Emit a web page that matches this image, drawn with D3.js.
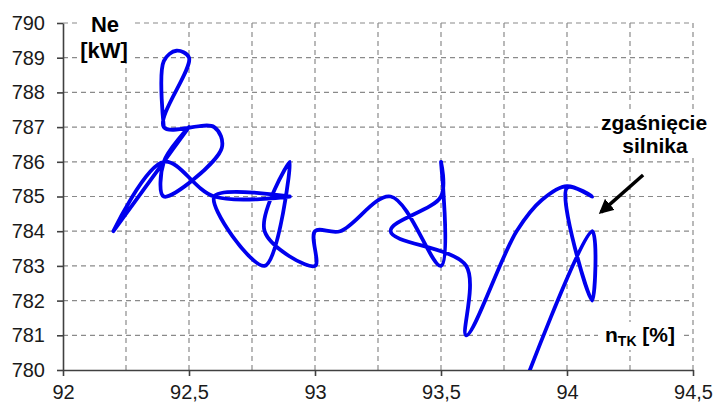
<!DOCTYPE html>
<html>
<head>
<meta charset="utf-8">
<script src="https://cdn.jsdelivr.net/npm/d3@7"></script>
<style>
  body { margin: 0; background: #fff; }
  svg { font-family: "Liberation Sans", Arial, sans-serif; }
</style>
</head>
<body>
<div id="chart"></div>
<script>
'use strict'

// n_TK [%] and Ne [kW], in time order
const nTK = [92.4, 92.4, 92.45, 92.5, 92.4, 92.6, 92.63, 92.4, 92.4, 92.5, 92.4, 92.2, 92.4, 92.6, 92.9, 92.6,
  92.8, 92.9, 92.8, 93.0, 93.0, 93.1, 93.3, 93.5, 93.5, 93.5, 93.3, 93.6, 93.6,
  93.8, 93.9, 94.0, 94.1, 94.0, 94.1, 94.1, 93.8];
const Ne = [787, 788.9, 789.2, 789, 787, 787, 786.4, 785, 786, 787, 786, 784, 786, 785, 785, 785,
  783, 786, 784, 783, 784, 784, 785, 783, 786, 785, 784, 783, 781,
  784, 784.9, 785.3, 785, 785.25, 782, 784, 779];

const xTicks = [92, 92.5, 93, 93.5, 94, 94.5];
const xTickLabels = ['92', '92,5', '93', '93,5', '94', '94,5'];
const xGrid = [92.25, 92.5, 92.75, 93, 93.25, 93.5, 93.75, 94, 94.25, 94.5];
const yTicks = [780, 781, 782, 783, 784, 785, 786, 787, 788, 789, 790];
const yGrid = [781, 782, 783, 784, 785, 786, 787, 788, 789, 790];

const margin = {left: 63, top: 23, right: 21, bottom: 33};
const W = 714, H = 403;
const width = W - margin.left - margin.right;
const height = H - margin.top - margin.bottom;

const svg = d3.select('#chart').append('svg')
  .attr('width', W)
  .attr('height', H);

const g = svg.append('g')
  .attr('transform', 'translate(' + margin.left + ',' + margin.top + ')');

const x = d3.scaleLinear().domain([92, 94.5]).range([0, width]);
const y = d3.scaleLinear().domain([780, 790]).range([height, 0]);

// dashed grid
g.append('g').selectAll('line').data(xGrid).enter()
  .append('line')
    .attr('x1', d => x(d)).attr('x2', d => x(d))
    .attr('y1', 0).attr('y2', height)
    .attr('stroke', '#8a8a8a')
    .attr('stroke-width', 1.2)
    .attr('stroke-dasharray', '5,4');

g.append('g').selectAll('line').data(yGrid).enter()
  .append('line')
    .attr('x1', 0).attr('x2', width)
    .attr('y1', d => y(d)).attr('y2', d => y(d))
    .attr('stroke', '#8a8a8a')
    .attr('stroke-width', 1.2)
    .attr('stroke-dasharray', '5,4');

// axes
const xAxis = g.append('g')
  .attr('transform', 'translate(0,' + height + ')')
  .call(d3.axisBottom(x).tickValues(xTicks).tickSize(6).tickSizeOuter(0).tickPadding(9)
    .tickFormat((d, i) => xTickLabels[i]));

const yAxis = g.append('g')
  .call(d3.axisLeft(y).tickValues(yTicks).tickSize(6).tickSizeOuter(0).tickPadding(12)
    .tickFormat(d => d));

[xAxis, yAxis].forEach(a => {
  a.select('.domain').attr('stroke', '#404040').attr('stroke-width', 1.6);
  a.selectAll('.tick line').attr('stroke', '#404040').attr('stroke-width', 1.6);
  a.selectAll('.tick text')
    .attr('font-size', 20)
    .attr('font-family', '"Liberation Sans", Arial, sans-serif')
    .attr('fill', '#1a1a1a');
});

// label boxes hide the grid behind the titles
const labelBoxes = [
  {x: 78, y: 0, w: 57, h: 62},
  {x: 598, y: 112, w: 115, h: 46},
  {x: 598, y: 322, w: 84, h: 28}
];
svg.append('g').selectAll('rect').data(labelBoxes).enter()
  .append('rect')
    .attr('x', d => d.x).attr('y', d => d.y)
    .attr('width', d => d.w).attr('height', d => d.h)
    .attr('fill', '#fff');

// the curve
svg.append('clipPath').attr('id', 'plotClip')
  .append('rect').attr('width', width).attr('height', height + 2).attr('y', -2);

const line = d3.line()
  .x(d => x(d[0]))
  .y(d => y(d[1]))
  .curve(d3.curveCatmullRom.alpha(0.5));

g.append('path')
  .datum(nTK.map((v, i) => [v, Ne[i]]))
  .attr('clip-path', 'url(#plotClip)')
  .attr('d', line)
  .attr('fill', 'none')
  .attr('stroke', '#0000ee')
  .attr('stroke-width', 3.8)
  .attr('stroke-linejoin', 'round')
  .attr('stroke-linecap', 'round');

// titles
const bold = sel => sel.attr('font-weight', 'bold').attr('fill', '#000').attr('text-anchor', 'middle');

svg.append('text').attr('x', 105).attr('y', 32).attr('font-size', 22).text('Ne').call(bold);
svg.append('text').attr('x', 104).attr('y', 58).attr('font-size', 22).text('[kW]').call(bold);

svg.append('text').attr('x', 654).attr('y', 130).attr('font-size', 21).text('zgaśnięcie').call(bold);
svg.append('text').attr('x', 655).attr('y', 153).attr('font-size', 21).text('silnika').call(bold);

const nLabel = svg.append('text').attr('x', 640).attr('y', 342).attr('font-size', 21).call(bold);
nLabel.append('tspan').text('n');
nLabel.append('tspan').attr('font-size', 14).attr('dy', 4).text('TK');
nLabel.append('tspan').attr('dy', -4).text(' [%]');

// arrow to shutdown point
svg.append('defs').append('marker')
  .attr('id', 'head')
  .attr('viewBox', '0 0 10 10')
  .attr('refX', 8).attr('refY', 5)
  .attr('markerWidth', 4.2).attr('markerHeight', 4.2)
  .attr('orient', 'auto')
  .append('path').attr('d', 'M0,0 L10,5 L0,10 z').attr('fill', '#000');

g.append('line')
  .attr('x1', x(94.302)).attr('y1', y(785.62))
  .attr('x2', x(94.135)).attr('y2', y(784.55))
  .attr('stroke', '#000')
  .attr('stroke-width', 3.5)
  .attr('marker-end', 'url(#head)');
</script>
</body>
</html>
